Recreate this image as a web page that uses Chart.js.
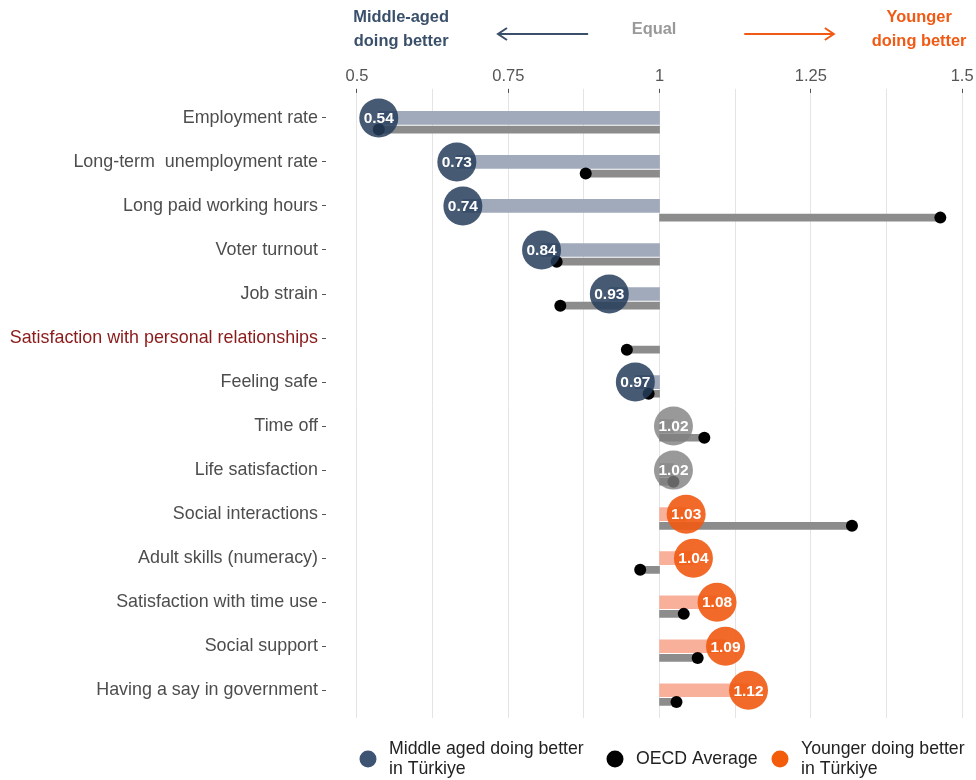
<!DOCTYPE html>
<html>
<head>
<meta charset="utf-8">
<script src="https://cdn.jsdelivr.net/npm/chart.js@4.4.1/dist/chart.umd.min.js"></script>
<style>
html, body { margin: 0; padding: 0; background: #fff; overflow: hidden; }
#wrap { width: 976px; height: 780px; position: relative; }
</style>
</head>
<body>
<div id="wrap"><canvas id="c"></canvas></div>
<script>
// categories, top to bottom
var categories = [
	'Employment rate',
	'Long-term  unemployment rate',
	'Long paid working hours',
	'Voter turnout',
	'Job strain',
	'Satisfaction with personal relationships',
	'Feeling safe',
	'Time off',
	'Life satisfaction',
	'Social interactions',
	'Adult skills (numeracy)',
	'Satisfaction with time use',
	'Social support',
	'Having a say in government'
];
var highlighted = 'Satisfaction with personal relationships';

// Türkiye ratio (young / middle-aged), position and printed label
var turkiyeRatio = [0.536, 0.665, 0.675, 0.805, 0.917, null, 0.96, 1.023, 1.023, 1.044, 1.056, 1.095, 1.109, 1.147];
var turkiyeLabel = ['0.54', '0.73', '0.74', '0.84', '0.93', null, '0.97', '1.02', '1.02', '1.03', '1.04', '1.08', '1.09', '1.12'];
var turkiyeGroup = ['middle', 'middle', 'middle', 'middle', 'middle', null, 'middle', 'equal', 'equal', 'young', 'young', 'young', 'young', 'young'];

// OECD average ratio
var oecdRatio = [0.536, 0.878, 1.464, 0.83, 0.836, 0.946, 0.982, 1.074, 1.023, 1.318, 0.968, 1.04, 1.063, 1.028];

// x axis ticks
var xTickValues = [0.5, 0.625, 0.75, 0.875, 1, 1.125, 1.25, 1.375, 1.5];
var xTickText = ['0.5', '', '0.75', '', '1', '', '1.25', '', '1.5'];

var colors = {
	middle: 'rgba(38,61,90,0.85)',
	equal: 'rgba(128,128,128,0.8)',
	young: 'rgba(240,90,18,0.9)',
	middleBar: '#a0aabb',
	equalBar: '#bdbdbd',
	youngBar: '#f8b09a',
	oecdBar: '#8c8c8c'
};
var oecdShift = 0.265;
var fontFamily = '"Liberation Sans", Arial, sans-serif';

var tBars = [], tBarColors = [], circles = [], circleColors = [], circleText = [];
var oBars = [], oDots = [];
for (var i = 0; i < categories.length; i++) {
	if (turkiyeRatio[i] != null) {
		tBars.push({ x: [1, turkiyeRatio[i]], y: i });
		tBarColors.push(colors[turkiyeGroup[i] + 'Bar']);
		circles.push({ x: turkiyeRatio[i], y: i });
		circleColors.push(colors[turkiyeGroup[i]]);
		circleText.push(turkiyeLabel[i]);
	}
	oBars.push({ x: [1, oecdRatio[i]], y: i + oecdShift });
	oDots.push({ x: oecdRatio[i], y: i + oecdShift });
}

function arrow(ctx, x1, x2, y, color) {
	var d = x2 > x1 ? 1 : -1;
	ctx.save();
	ctx.strokeStyle = color;
	ctx.lineWidth = 2;
	ctx.beginPath();
	ctx.moveTo(x1, y);
	ctx.lineTo(x2, y);
	ctx.moveTo(x2 - d * 9, y - 6);
	ctx.lineTo(x2, y);
	ctx.lineTo(x2 - d * 9, y + 6);
	ctx.stroke();
	ctx.restore();
}

var overlay = {
	id: 'overlay',
	afterDatasetsDraw: function(chart) {
		var ctx = chart.ctx;
		var meta = chart.getDatasetMeta(3);
		ctx.save();
		ctx.fillStyle = '#fff';
		ctx.font = 'bold 15.5px ' + fontFamily;
		ctx.textAlign = 'center';
		ctx.textBaseline = 'middle';
		meta.data.forEach(function(pt, k) {
			ctx.fillText(circleText[k], pt.x, pt.y + 1);
		});
		ctx.restore();
	},
	afterDraw: function(chart) {
		var ctx = chart.ctx;
		var xs = chart.scales.x;
		ctx.save();
		ctx.textAlign = 'center';
		ctx.textBaseline = 'middle';
		ctx.font = 'bold 16.4px ' + fontFamily;

		ctx.fillStyle = '#3a4f6a';
		var mx = xs.getPixelForValue(0.573);
		ctx.fillText('Middle-aged', mx, 17);
		ctx.fillText('doing better', mx, 41);
		arrow(ctx, xs.getPixelForValue(0.882), xs.getPixelForValue(0.733), 34, '#3a4f6a');

		ctx.fillStyle = '#999';
		ctx.fillText('Equal', xs.getPixelForValue(0.991), 29);

		ctx.fillStyle = '#f05a14';
		var yx = xs.getPixelForValue(1.429);
		ctx.fillText('Younger', yx, 17);
		ctx.fillText('doing better', yx, 41);
		arrow(ctx, xs.getPixelForValue(1.14), xs.getPixelForValue(1.288), 34, '#f05a14');

		// legend
		var ly = 759;
		var items = [
			{ x: 368, color: '#3d5473', text: ['Middle aged doing better', 'in Türkiye'] },
			{ x: 615, color: '#000', text: ['OECD Average'] },
			{ x: 780, color: '#f25c0a', text: ['Younger doing better', 'in Türkiye'] }
		];
		ctx.font = '17.7px ' + fontFamily;
		ctx.textAlign = 'left';
		items.forEach(function(it) {
			ctx.fillStyle = it.color;
			ctx.beginPath();
			ctx.arc(it.x, ly, 8.5, 0, 2 * Math.PI);
			ctx.fill();
			ctx.fillStyle = '#222';
			var n = it.text.length;
			it.text.forEach(function(t, j) {
				ctx.fillText(t, it.x + 21, ly + (j - (n - 1) / 2) * 19.5);
			});
		});
		ctx.restore();
	}
};

var c = document.getElementById('c');
c.width = 976;
c.height = 780;

new Chart(c, {
	type: 'bar',
	data: {
		datasets: [
			{
				type: 'bar', data: tBars, backgroundColor: tBarColors,
				barThickness: 13, grouped: false, order: 3
			},
			{
				type: 'bar', data: oBars, backgroundColor: colors.oecdBar,
				barThickness: 7, grouped: false, order: 2
			},
			{
				type: 'scatter', data: oDots, pointRadius: 6, pointBackgroundColor: '#000',
				pointBorderWidth: 0, order: 1
			},
			{
				type: 'scatter', data: circles, pointRadius: 19.5, pointBackgroundColor: circleColors,
				pointBorderWidth: 0, order: 0
			}
		]
	},
	options: {
		indexAxis: 'y',
		responsive: false,
		animation: false,
		devicePixelRatio: 1,
		layout: { autoPadding: false, padding: { top: 65, left: 0, right: 3, bottom: 62 } },
		plugins: {
			legend: { display: false },
			tooltip: { enabled: false }
		},
		scales: {
			x: {
				type: 'linear',
				position: 'top',
				bounds: 'data',
				min: 0.4488,
				max: 1.518,
				afterBuildTicks: function(s) {
					s.ticks = xTickValues.map(function(v) { return { value: v }; });
				},
				afterFit: function(s) {
					s.paddingLeft = 0;
					s.paddingRight = 0;
				},
				ticks: {
					padding: 2,
					color: '#555',
					font: { family: fontFamily, size: 16.5 },
					maxRotation: 0,
					autoSkip: false,
					callback: function(v) {
						var k = xTickValues.indexOf(v);
						return k < 0 ? '' : xTickText[k];
					}
				},
				grid: {
					color: '#e4e4e4',
					tickLength: 4,
					tickColor: function(ctx) {
						var k = xTickValues.indexOf(ctx.tick.value);
						return xTickText[k] ? '#555' : '#e4e4e4';
					}
				},
				border: { display: false }
			},
			y: {
				type: 'linear',
				reverse: true,
				offset: false,
				bounds: 'data',
				min: -0.57,
				max: 13.63,
				afterBuildTicks: function(s) {
					s.ticks = categories.map(function(t, k) { return { value: k }; });
				},
				afterFit: function(s) {
					s.width = 326;
					s.paddingTop = 0;
					s.paddingBottom = 0;
				},
				ticks: {
					padding: 4,
					autoSkip: false,
					font: { family: fontFamily, size: 17.9 },
					color: function(ctx) {
						return categories[ctx.tick.value] === highlighted ? '#8b1a1a' : '#4d4d4d';
					},
					callback: function(v) { return categories[v]; }
				},
				grid: {
					offset: false,
					drawOnChartArea: false,
					tickLength: 4,
					tickColor: '#555',
					color: 'rgba(0,0,0,0)'
				},
				border: { display: false }
			}
		}
	},
	plugins: [overlay]
});
</script>
</body>
</html>
